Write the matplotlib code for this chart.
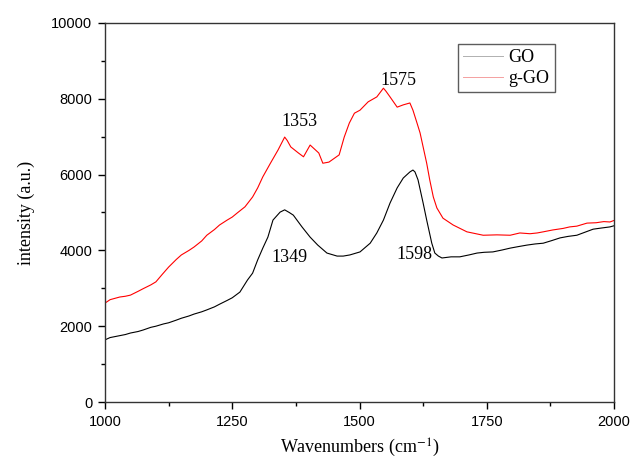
import matplotlib.pyplot as plt
import numpy as np
from matplotlib.ticker import MultipleLocator

plt.rcParams['mathtext.fontset'] = 'stix'

# Raman spectra, GO vs g-GO
wn_go = [1000, 1010, 1025, 1040, 1050, 1065, 1075, 1090, 1100, 1115, 1125, 1140, 1150, 1165,
         1175, 1190, 1200, 1215, 1225, 1240, 1250, 1265, 1280, 1290, 1300, 1310, 1320, 1330,
         1344, 1353, 1362, 1370, 1387, 1403, 1418, 1436, 1456, 1468, 1481, 1501, 1521, 1534,
         1547, 1560, 1574, 1586, 1599, 1605, 1609, 1615, 1625, 1632, 1642, 1648, 1655, 1662,
         1680, 1697, 1715, 1731, 1745, 1762, 1780, 1796, 1812, 1829, 1845, 1861, 1878, 1894,
         1910, 1927, 1943, 1959, 1975, 1992, 2000]
int_go = [1640, 1700, 1740, 1780, 1820, 1860, 1900, 1970, 2000, 2060, 2090, 2160, 2210, 2270,
          2320, 2380, 2430, 2510, 2580, 2680, 2750, 2900, 3220, 3400, 3750, 4060, 4350, 4800,
          5010, 5070, 5000, 4930, 4620, 4350, 4140, 3930, 3850, 3850, 3880, 3960, 4190, 4460,
          4800, 5250, 5650, 5910, 6070, 6120, 6070, 5860, 5250, 4800, 4190, 3930, 3850, 3800,
          3830, 3830, 3880, 3930, 3950, 3960, 4010, 4060, 4100, 4140, 4170, 4190, 4260, 4330,
          4370, 4400, 4480, 4560, 4590, 4620, 4650]

wn_ggo = [1000, 1010, 1029, 1040, 1050, 1065, 1075, 1090, 1100, 1112, 1125, 1140, 1150, 1165,
          1175, 1190, 1200, 1215, 1225, 1240, 1250, 1260, 1275, 1290, 1300, 1310, 1325, 1340,
          1353, 1358, 1365, 1380, 1390, 1403, 1420, 1428, 1440, 1460, 1470, 1480, 1490, 1501,
          1517, 1534, 1547, 1552, 1560, 1574, 1586, 1599, 1605, 1613, 1619, 1625, 1632, 1638,
          1645, 1652, 1664, 1684, 1711, 1743, 1770, 1796, 1815, 1835, 1849, 1861, 1880, 1900,
          1913, 1927, 1947, 1965, 1980, 1992, 2000]
int_ggo = [2610, 2700, 2770, 2790, 2820, 2920, 2990, 3090, 3170, 3360, 3560, 3760, 3880, 4000,
           4090, 4250, 4400, 4550, 4670, 4800, 4880, 4990, 5150, 5410, 5650, 5940, 6300, 6650,
           6990, 6900, 6730, 6570, 6470, 6780, 6570, 6300, 6330, 6520, 6990, 7360, 7620, 7700,
           7920, 8050, 8280, 8200, 8050, 7780, 7840, 7890, 7700, 7360, 7100, 6730, 6300, 5860,
           5410, 5120, 4850, 4670, 4490, 4400, 4410, 4400, 4460, 4440, 4460, 4490, 4540, 4580,
           4620, 4640, 4720, 4730, 4760, 4750, 4790]

peak_labels = ['1353', '1575', '1349', '1598']
peak_pos = [(1383, 7410), (1576, 8470), (1363, 3800), (1607, 3880)]

fig = plt.figure(figsize=(6.3, 4.61), dpi=100)
ax = fig.add_axes([105 / 630, 1 - 402 / 461, 509 / 630, 379 / 461])

ax.plot(wn_go, int_go, color='black', lw=0.8, label='GO')
ax.plot(wn_ggo, int_ggo, color='red', lw=0.8, label='g-GO')

for txt, (px, py) in zip(peak_labels, peak_pos):
    ax.text(px, py, txt, ha='center', va='center', fontsize=13, family='Liberation Serif')

ax.set_xlim(1000, 2000)
ax.set_ylim(0, 10000)
ax.xaxis.set_major_locator(MultipleLocator(250))
ax.xaxis.set_minor_locator(MultipleLocator(125))
ax.yaxis.set_major_locator(MultipleLocator(2000))
ax.yaxis.set_minor_locator(MultipleLocator(1000))
ax.tick_params(which='major', direction='out', length=5, width=1, labelsize=10.5, pad=4)
ax.tick_params(which='minor', direction='out', length=3, width=1)
for lab in ax.get_xticklabels() + ax.get_yticklabels():
    lab.set_family('Liberation Sans')
for sp in ax.spines.values():
    sp.set_color('#333333')
    sp.set_linewidth(1.0)

ax.set_xlabel('Wavenumbers (cm$^{-1}$)', family='Liberation Serif', fontsize=13, labelpad=6)
ax.set_ylabel('intensity (a.u.)', family='Liberation Serif', fontsize=13, labelpad=12)

leg = ax.legend(loc='upper right', bbox_to_anchor=((555 - 105) / 509, 1 - 21 / 379),
                prop={'family': 'Liberation Serif', 'size': 13}, frameon=True, fancybox=False,
                handlelength=2.2, borderpad=0.3, labelspacing=0.2, handletextpad=0.3,
                borderaxespad=0)
leg.get_frame().set_edgecolor('#333333')
leg.get_frame().set_linewidth(1.0)
for h, c in zip(leg.get_lines(), ['#b0b0b0', '#f4a0a0']):
    h.set_linewidth(0.7)
    h.set_color(c)

fig.savefig('out.png', dpi=100)
